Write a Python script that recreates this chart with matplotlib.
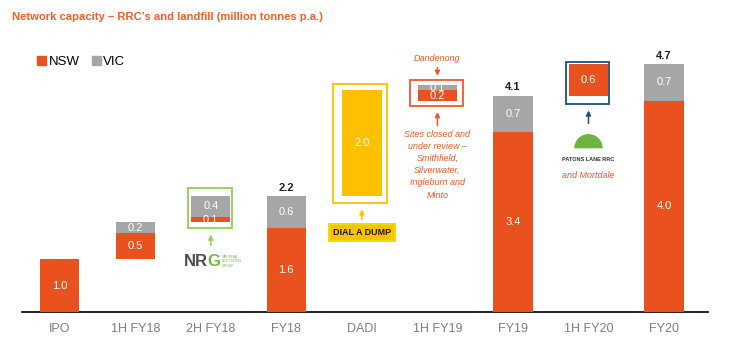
import matplotlib.pyplot as plt
import numpy as np
from matplotlib.patches import Rectangle
from matplotlib.markers import MarkerStyle

plt.rcParams['font.family'] = ['Liberation Sans', 'DejaVu Sans']

categories = ['IPO', '1H FY18', '2H FY18', 'FY18', 'DADI', '1H FY19', 'FY19', '1H FY20', 'FY20']
kinds = ['total', 'delta', 'delta', 'total', 'delta', 'delta', 'total', 'delta', 'total']
nsw = [1.0, 0.5, 0.1, 1.6, 2.0, -0.2, 3.4, 0.6, 4.0]
vic = [0.0, 0.2, 0.4, 0.6, 0.0, 0.1, 0.7, 0.0, 0.7]

ORANGE = '#E9511E'
GREY = '#A6A6A6'
YELLOW = '#FFC000'
NOTE = '#F0592A'

fig = plt.figure(figsize=(7.32, 3.53), dpi=100)
ax = fig.add_axes([0.030, 0.116, 0.937, 0.793])

x = np.arange(len(categories))
w = 0.52
T = 0.0
for i, (k, n, v) in enumerate(zip(kinds, nsw, vic)):
    if k == 'total':
        r0, r1 = 0.0, n
        g0 = n
        T = n + v
    else:
        if n >= 0:
            r0, r1 = T, T + n
            g0 = T + n
        else:
            r0, r1 = T + n, T
            g0 = T
        T = T + n + v
    col = YELLOW if categories[i] == 'DADI' else ORANGE
    ax.bar(x[i], r1 - r0, bottom=r0, width=w, color=col, zorder=3)
    ax.text(x[i], (r0 + r1) / 2, f'{abs(n):.1f}', ha='center', va='center',
            color='white', fontsize=8, zorder=5)
    if v > 0:
        ax.bar(x[i], v, bottom=g0, width=w, color=GREY, zorder=3)
        ax.text(x[i], g0 + v / 2, f'{v:.1f}', ha='center', va='center',
                color='white', fontsize=8, zorder=5)
        if k == 'total':
            ax.text(x[i], g0 + v + 0.06, f'{n + v:.1f}', ha='center', va='bottom',
                    color='#222222', fontsize=8, fontweight='bold')

ax.set_xlim(-0.5, 8.58)
ax.set_ylim(0, 5.3)
ax.set_xticks(x)
ax.set_xticklabels(categories, fontsize=9, color='#7F7F7F')
ax.tick_params(axis='x', length=0, pad=8)
ax.set_yticks([])
for s in ['top', 'right', 'left']:
    ax.spines[s].set_visible(False)
ax.spines['bottom'].set_color('black')
ax.spines['bottom'].set_linewidth(1.2)

# boxes around the acquisitions
boxes = [(1.70, 1.59, 0.58, 0.76, '#92D050'), (3.62, 2.06, 0.71, 2.26, YELLOW),
         (4.64, 3.90, 0.70, 0.49, NOTE), (6.70, 3.94, 0.57, 0.79, '#1F4E79')]
for bx, by, bw, bh, bc in boxes:
    ax.add_patch(Rectangle((bx, by), bw, bh, fill=False, edgecolor=bc, lw=1.3, zorder=4))

def arrow(xx, y0, y1, c):
    ax.annotate('', xy=(xx, y1), xytext=(xx, y0),
                arrowprops=dict(arrowstyle='-|>', color=c, lw=1.1, mutation_scale=7))

arrow(2, 1.21, 1.52, '#92D050')
arrow(4, 1.70, 2.00, YELLOW)
arrow(5, 4.68, 4.42, NOTE)
arrow(5, 3.48, 3.84, NOTE)
arrow(7, 3.52, 3.87, '#1F4E79')

# logos, as text
ax.text(1.96, 0.96, 'NR', ha='right', va='center', fontsize=12, fontweight='bold', color='#4D4D4D')
ax.text(1.96, 0.96, 'G', ha='left', va='center', fontsize=12, fontweight='bold', color='#7AB648')
ax.text(2.15, 0.96, 'NATIONAL\nRECYCLING\nGROUP', ha='left', va='center', fontsize=2.5,
        color='#7AB648', linespacing=1.1)
ax.text(4.0, 1.51, 'DIAL A DUMP', ha='center', va='center', fontsize=6.5, fontweight='bold',
        color='#1A1A1A', bbox=dict(boxstyle='square,pad=0.45', fc=YELLOW, ec='#E8E000', lw=1.5))
ax.scatter([7], [3.1], s=420, marker=MarkerStyle('o', fillstyle='top'),
           color='#6DB33F', edgecolors='none', zorder=3)
ax.text(7, 2.88, 'PATONS LANE RRC', ha='center', va='center', fontsize=4,
        fontweight='bold', color='#333333')

# notes
ax.text(5, 4.81, 'Dandenong', ha='center', va='center', fontsize=6.5, style='italic', color=NOTE)
ax.text(5, 3.45, 'Sites closed and\nunder review \u2013\nSmithfield,\nSilverwater,\nIngleburn and\nMinto',
        ha='center', va='top', fontsize=6.5, style='italic', color=NOTE, linespacing=1.45)
ax.text(7, 2.58, 'and Mortdale', ha='center', va='center', fontsize=6.5, style='italic', color=NOTE)

fig.text(0.016, 0.952, "Network capacity \u2013 RRC\u2019s and landfill (million tonnes p.a.)",
         ha='left', va='center', fontsize=8.1, fontweight='bold', color='#F0602A')

h1 = Rectangle((0, 0), 1, 1, color=ORANGE)
h2 = Rectangle((0, 0), 1, 1, color=GREY)
fig.legend([h1, h2], ['NSW', 'VIC'], loc='center left', bbox_to_anchor=(0.034, 0.825),
           ncol=2, frameon=False, fontsize=9.5, handlelength=0.7, handleheight=0.7,
           handletextpad=0.2, columnspacing=0.9)

fig.savefig('out.png', dpi=100)
